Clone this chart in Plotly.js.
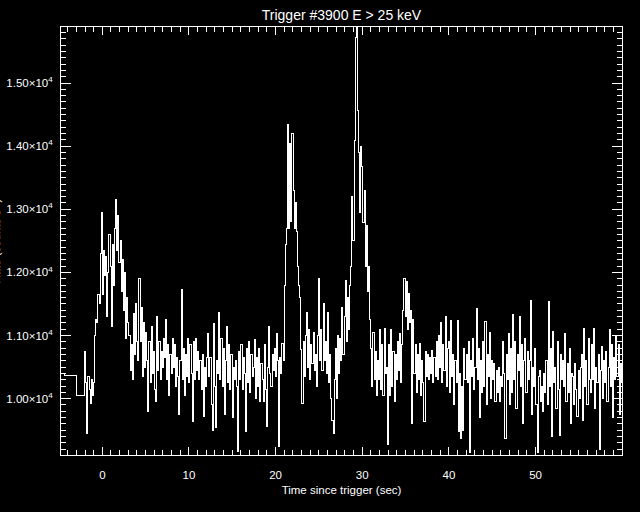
<!DOCTYPE html>
<html>
<head>
<meta charset="utf-8">
<script src="https://cdn.plot.ly/plotly-3.0.1.min.js"></script>
<style>
html,body{margin:0;padding:0;background:#000;}
#chart{width:640px;height:512px;}
#chart .js-line{shape-rendering:crispEdges;}
</style>
</head>
<body>
<div id="chart"></div>
<script>
// Pre-trigger (1.024 s resolution) segments
const preTimes = [-4.77, -4.35, -3.008];
const preRates = [10400, 10370, 10050];

// 64 ms data rebinned to 0.128 s, starting at t = -2.048 s
const binStart = -2.048;
const binWidth = 0.128;

const ratesA = [ // -2.05 .. 8.19 s
  10750, 10250, 9450, 10350, 10150, 9920, 10300, 10050,
  10250, 11000, 11250, 11200, 11650, 11500, 12300, 12950,
  11650, 12350, 11950, 12250, 11300, 12000, 12600, 12100,
  11150, 12450, 11800, 12700, 13150, 12350, 12900, 12150,
  12500, 11700, 12200, 11400, 12000, 10950, 11600, 11200,
  11000, 10450, 10850, 10300, 11350, 10700, 11500, 10900,
  10600, 11900, 10900, 11450, 10350, 11200, 10500, 11050,
  10600, 9800, 10900, 10250, 11150, 10400, 10750, 10150,
  9950, 11300, 10450, 10900, 10300, 10750, 10500, 10950,
  10650, 11250, 10300, 10850, 10050, 10700, 10400, 10950
];
const ratesB = [ // 8.19 .. 18.43 s
  10500, 10850, 10200, 10650, 10350, 9750, 10600, 11730,
  10300, 10800, 10050, 10700, 10350, 10950, 10250, 10850,
  10400, 9640, 10900, 10300, 10950, 10450, 10750, 10300,
  10600, 10150, 10700, 9720, 10500, 10200, 10650, 11030,
  10350, 10650, 9900, 9500, 11190, 10200, 9550, 10600,
  10400, 11370, 10300, 10950, 10200, 10800, 9750, 10600,
  11140, 10250, 10850, 10150, 10700, 9700, 10500, 10300,
  10600, 10200, 9160, 10750, 10300, 10850, 10150, 10650,
  10400, 9480, 10800, 10250, 10900, 10100, 10700, 10350,
  10500, 10930, 10000, 10650, 10200, 10800, 9950, 10550
];
const ratesC = [ // 18.43 .. 28.67 s
  10300, 9950, 10850, 10150, 9560, 10500, 11140, 10400,
  10200, 10700, 10450, 10800, 10350, 11035, 10600, 9243,
  10650, 10400, 10875, 10600, 11800, 12450, 12700, 14350,
  12700, 14040, 12800, 14200, 13300, 12700, 13100, 12650,
  12100, 11800, 11600, 10780, 9930, 10900, 10350, 11000,
  11370, 10500, 11100, 10300, 10850, 10550, 11050, 10450,
  10700, 10200, 11000, 11900, 10600, 11100, 10450, 11500,
  10600, 10900, 10400, 11370, 10250, 10700, 10000, 9660,
  9450, 10300, 10800, 10000, 11000, 10400, 10950, 10600,
  11450, 10700, 11300, 11870, 10900, 11600, 11100, 11800
];
const ratesD = [ // 28.67 .. 38.91 s
  12100, 13200, 12500, 14090, 15720, 16300, 14560, 13900,
  12950, 14000, 13680, 12790, 13300, 12100, 12740, 11700,
  12100, 11260, 10800, 10200, 11050, 10300, 10750, 10050,
  10600, 10300, 11100, 10150, 10850, 10050, 11110, 10400,
  10500, 9270, 10850, 10050, 11100, 10200, 10750, 9950,
  10700, 10300, 10900, 10450, 11030, 10250, 10850, 11400,
  11900, 11300, 11850, 11100, 11660, 11200, 11400, 9610,
  11250, 10400, 10850, 10100, 10700, 10300, 10875, 10050,
  10600, 10250, 9640, 10750, 10350, 10700, 10300, 10650,
  10400, 10770, 10250, 10650, 10350, 10900, 10300, 11000
];
const ratesE = [ // 38.91 .. 49.15 s
  10500, 11200, 10250, 10850, 10450, 11300, 10200, 10800,
  10900, 10100, 11245, 10350, 10700, 9900, 10600, 10250,
  11245, 9480, 10400, 9375, 10200, 9500, 10800, 10300,
  10700, 10250, 10900, 9140, 10600, 10350, 10950, 10150,
  10500, 11430, 10300, 10800, 9700, 10600, 10100, 10900,
  10200, 11220, 9900, 10700, 10350, 11050, 10000, 10600,
  10300, 10560, 9950, 10450, 10100, 10500, 9950, 10350,
  10200, 10900, 10400, 9375, 10700, 10300, 11030, 9900,
  10800, 10100, 11330, 10300, 10900, 9850, 10700, 10450,
  11300, 10200, 10850, 9610, 10600, 10950, 10100, 10750
];
const ratesF = [ // 49.15 .. 60.03 s
  10300, 10600, 11560, 9750, 10500, 10200, 10800, 9900,
  9140, 10350, 10450, 9950, 10200, 9800, 10400, 10100,
  10600, 9900, 11540, 10200, 10800, 9400, 11060, 10250,
  10500, 9850, 10900, 10150, 9420, 10700, 10300, 10600,
  10200, 11030, 9950, 10550, 10100, 10800, 9610, 10400,
  10350, 9900, 10560, 10150, 9720, 10450, 10000, 10500,
  10700, 9660, 11110, 10200, 10600, 9900, 10950, 10300,
  10100, 10850, 10300, 11110, 9850, 10500, 10250, 10700,
  9190, 10450, 10820, 10000, 10600, 10250, 10750, 9950,
  10500, 11100, 10200, 10850, 9700, 10650, 10300, 11000,
  10350, 10850, 9750, 10550, 10250
];

// Axis tick labels
const xTickVals = [0, 10, 20, 30, 40, 50];
const yTickVals = [10000, 11000, 12000, 13000, 14000, 15000];
const yTickText = ['1.00\u00d710<sup>4</sup>', '1.10\u00d710<sup>4</sup>', '1.20\u00d710<sup>4</sup>',
                   '1.30\u00d710<sup>4</sup>', '1.40\u00d710<sup>4</sup>', '1.50\u00d710<sup>4</sup>'];

const binRates = [].concat(ratesA, ratesB, ratesC, ratesD, ratesE, ratesF);
const binTimes = binRates.map((_, i) => +(binStart + i * binWidth).toFixed(3));
const endTime = binTimes[binTimes.length - 1] + binWidth;

const xs = preTimes.concat(binTimes, [endTime]);
const ys = preRates.concat(binRates, [binRates[binRates.length - 1]]);

const FONT = 'Liberation Sans, Arial, sans-serif';

const trace = {
  x: xs, y: ys, type: 'scatter', mode: 'lines',
  line: {color: '#ffffff', width: 1, shape: 'hv'},
  hoverinfo: 'skip'
};

const axisCommon = {
  showgrid: false, zeroline: false, showline: true,
  linecolor: '#ffffff', linewidth: 1,
  ticks: 'inside', mirror: 'ticks', tickcolor: '#ffffff', tickwidth: 1,
  tickfont: {family: FONT, size: 11.5, color: '#ffffff'}
};

const layout = {
  width: 640, height: 512,
  paper_bgcolor: '#000000', plot_bgcolor: '#000000',
  margin: {l: 61, r: 18, t: 27, b: 57},
  showlegend: false,
  font: {family: FONT, color: '#ffffff'},
  title: {
    text: 'Trigger #3900 E > 25 keV',
    font: {family: FONT, size: 14, color: '#ffffff'},
    x: 0.5, xref: 'paper', xanchor: 'center',
    y: 1 - 15 / 512, yref: 'container', yanchor: 'middle'
  },
  xaxis: Object.assign({}, axisCommon, {
    range: [-4.77, 59.98],
    tickmode: 'array', tickvals: xTickVals,
    ticklen: 8, ticklabelstandoff: 9,
    minor: {dtick: 1, tick0: 0, ticklen: 5, ticks: 'inside', tickcolor: '#ffffff', tickwidth: 1, showgrid: false},
    title: {text: 'Time since trigger (sec)', font: {family: FONT, size: 11.5, color: '#ffffff'}, standoff: 6}
  }),
  yaxis: Object.assign({}, axisCommon, {
    range: [9107, 15888],
    tickmode: 'array', tickvals: yTickVals, ticktext: yTickText,
    ticklen: 10, ticklabelstandoff: 5,
    minor: {dtick: 100, tick0: 0, ticklen: 5, ticks: 'inside', tickcolor: '#ffffff', tickwidth: 1, showgrid: false}
  }),
  annotations: [{
    text: 'Rate (counts s<sup>-1</sup>)', textangle: -90,
    xref: 'paper', yref: 'paper', x: -0.118, y: 0.5,
    xanchor: 'center', yanchor: 'middle', showarrow: false,
    font: {family: FONT, size: 11.5, color: '#ffffff'}
  }]
};

Plotly.newPlot('chart', [trace], layout, {staticPlot: true, displayModeBar: false});
</script>
</body>
</html>
